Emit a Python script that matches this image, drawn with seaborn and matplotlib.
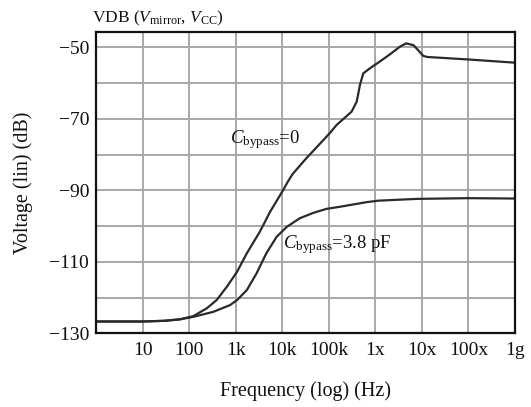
import matplotlib
matplotlib.use("Agg")
import matplotlib.pyplot as plt
from matplotlib.ticker import FixedLocator, FixedFormatter, NullLocator
import seaborn as sns
import pandas as pd

# ---- data ----
freq_c0 = [1, 10, 30, 63, 123, 240, 390, 645, 1070, 1740, 3300, 5500, 10500,
           13200, 16600, 31600, 102000, 148000, 309000, 398000, 468000, 550000,
           760000, 1.15e6, 2.04e6, 3.39e6, 4.6e6, 6.6e6, 8.3e6, 1.07e7, 1.3e7,
           1e8, 1e9]
db_c0 = [-126.7, -126.7, -126.5, -126.1, -125.2, -123.0, -120.7, -117.0, -112.8,
         -107.6, -101.6, -96.0, -89.9, -87.6, -85.5, -81.3, -74.2, -71.7, -68.0,
         -65.2, -60.5, -57.3, -55.9, -54.3, -52.0, -49.8, -48.9, -49.4, -50.8,
         -52.4, -52.7, -53.4, -54.3]

freq_c38 = [1, 10, 30, 63, 123, 330, 760, 1070, 1740, 2820, 4570, 7590, 12600,
            24000, 46800, 89000, 174000, 660000, 1.15e6, 7.8e6, 1e8, 1e9]
db_c38 = [-126.7, -126.7, -126.5, -126.1, -125.4, -124.0, -122.1, -120.7, -117.9,
          -113.2, -107.6, -103.0, -100.2, -97.8, -96.3, -95.2, -94.6, -93.3,
          -92.9, -92.4, -92.2, -92.3]

x_ticks = [10, 100, 1e3, 1e4, 1e5, 1e6, 1e7, 1e8, 1e9]
x_labels = ["10", "100", "1k", "10k", "100k", "1x", "10x", "100x", "1g"]
y_major = [-130, -110, -90, -70, -50]
y_minor = [-120, -100, -80, -60]
y_labels = ["\u2212130", "\u2212110", "\u221290", "\u221270", "\u221250"]

series_names = ["Cbypass=0", "Cbypass=3.8 pF"]

df = pd.concat([
    pd.DataFrame({"freq": freq_c0, "db": db_c0, "series": series_names[0]}),
    pd.DataFrame({"freq": freq_c38, "db": db_c38, "series": series_names[1]}),
], ignore_index=True)

# ---- style ----
sns.set_style("white")
plt.rcParams["font.family"] = ["Liberation Serif", "DejaVu Serif"]
plt.rcParams["mathtext.fontset"] = "custom"
plt.rcParams["mathtext.rm"] = "Liberation Serif"
plt.rcParams["mathtext.it"] = "Liberation Serif:italic"
plt.rcParams["mathtext.bf"] = "Liberation Serif:bold"

W, H = 531, 407
fig = plt.figure(figsize=(W / 100, H / 100), dpi=100)
L, R, T, B = 96, 515, 32.3, 333.3
ax = fig.add_axes([L / W, 1 - B / H, (R - L) / W, (B - T) / H])

sns.lineplot(data=df, x="freq", y="db", hue="series", units="series",
             estimator=None, sort=False,
             palette={series_names[0]: "#2a2a2a", series_names[1]: "#2a2a2a"},
             linewidth=1.6, legend=False, ax=ax)
for ln in ax.lines:
    ln.set_solid_joinstyle("round")

ax.set_xscale("log")
ax.set_xlim(1, 1e9)
ax.set_ylim(-130, -45.8)

ax.xaxis.set_major_locator(FixedLocator(x_ticks))
ax.xaxis.set_major_formatter(FixedFormatter(x_labels))
ax.xaxis.set_minor_locator(NullLocator())
ax.yaxis.set_major_locator(FixedLocator(y_major))
ax.yaxis.set_major_formatter(FixedFormatter(y_labels))
ax.yaxis.set_minor_locator(FixedLocator(y_minor))

ax.grid(True, which="both", color="#a8a8a8", linewidth=1.4)
ax.set_axisbelow(True)
ax.tick_params(axis="both", which="both", length=0, labelsize=14, colors="#111111")
ax.tick_params(axis="x", pad=6)
ax.tick_params(axis="y", pad=5)

for sp in ax.spines.values():
    sp.set_visible(True)
    sp.set_color("#111111")
    sp.set_linewidth(1.6)

ax.set_xlabel("Frequency (log) (Hz)", fontsize=14.5, color="#111111")
ax.set_ylabel("Voltage (lin) (dB)", fontsize=14.5, color="#111111")
ax.xaxis.set_label_coords(0.5, -0.160)
ax.yaxis.set_label_coords(-0.150, 0.5)

ax.text(10 ** 2.88, -75.9, r"$C_{\mathrm{bypass}}$=0", fontsize=13.5,
        va="center", ha="left", color="#111111")
ax.text(10 ** 4.02, -105.3, r"$C_{\mathrm{bypass}}$=3.8 pF", fontsize=13.5,
        va="center", ha="left", color="#111111")

fig.text(92 / W, 1 - 18 / H, r"VDB ($V_{\mathrm{mirror}}$, $V_{\mathrm{CC}}$)",
         fontsize=12.5, va="center", ha="left", color="#111111")

fig.savefig("out.png", dpi=100, facecolor="white")
